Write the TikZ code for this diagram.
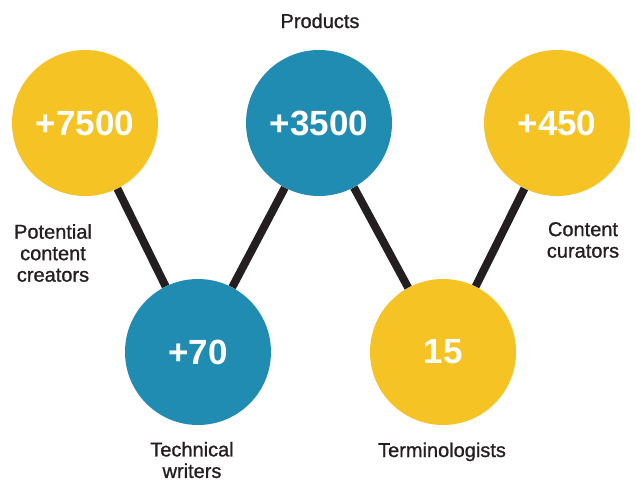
\documentclass[tikz,border=0pt]{standalone}
\usepackage{fontspec}
\setmainfont{Liberation Sans}
\newfontfamily\labelfont[FakeBold=1]{Liberation Sans}
\definecolor{bubbleyellow}{HTML}{F5C324}
\definecolor{bubbleblue}{HTML}{218CB2}
\definecolor{linkdark}{HTML}{231F20}
\tikzset{
  bubble/.style={circle, minimum size=146pt, inner sep=0pt, text=white,
    font=\fontsize{35}{35}\selectfont\bfseries},
  yellowbubble/.style={bubble, fill=bubbleyellow},
  bluebubble/.style={bubble, fill=bubbleblue},
  caption/.style={inner sep=0pt, align=center, text=linkdark,
    font=\labelfont\fontsize{20}{21.5}\selectfont},
  link/.style={draw=linkdark, line width=8pt}
}
\begin{document}
\begin{tikzpicture}[x=1pt,y=-1pt]
    \useasboundingbox (0,0) rectangle (636,482);

    % Cerchi con i numeri
    \node[yellowbubble](n7500) at (85,123) {+7500};
    \node[bluebubble](n3500) at (319,123) {+3500};
    \node[yellowbubble](n450) at (557,123) {+450};
    \node[bluebubble](n70) at (198,352) {+70};
    \node[yellowbubble](n15) at (443,352) {15};

    % Collegamenti a zig-zag tra i cerchi
    \path[link] (n7500) -- (n70);
    \path[link] (n70) -- (n3500);
    \path[link] (n3500) -- (n15);
    \path[link] (n15) -- (n450);

    % Etichette
    \node[caption, anchor=base](lproducts) at (320,28) {Products};
    \node[caption](lcreators) at (53,253) {Potential\\content\\creators};
    \node[caption](lwriters) at (192,460) {Technical\\writers};
    \node[caption, anchor=base](lterms) at (442,457) {Terminologists};
    \node[caption](lcurators) at (583,240) {Content\\curators};
\end{tikzpicture}
\end{document}
